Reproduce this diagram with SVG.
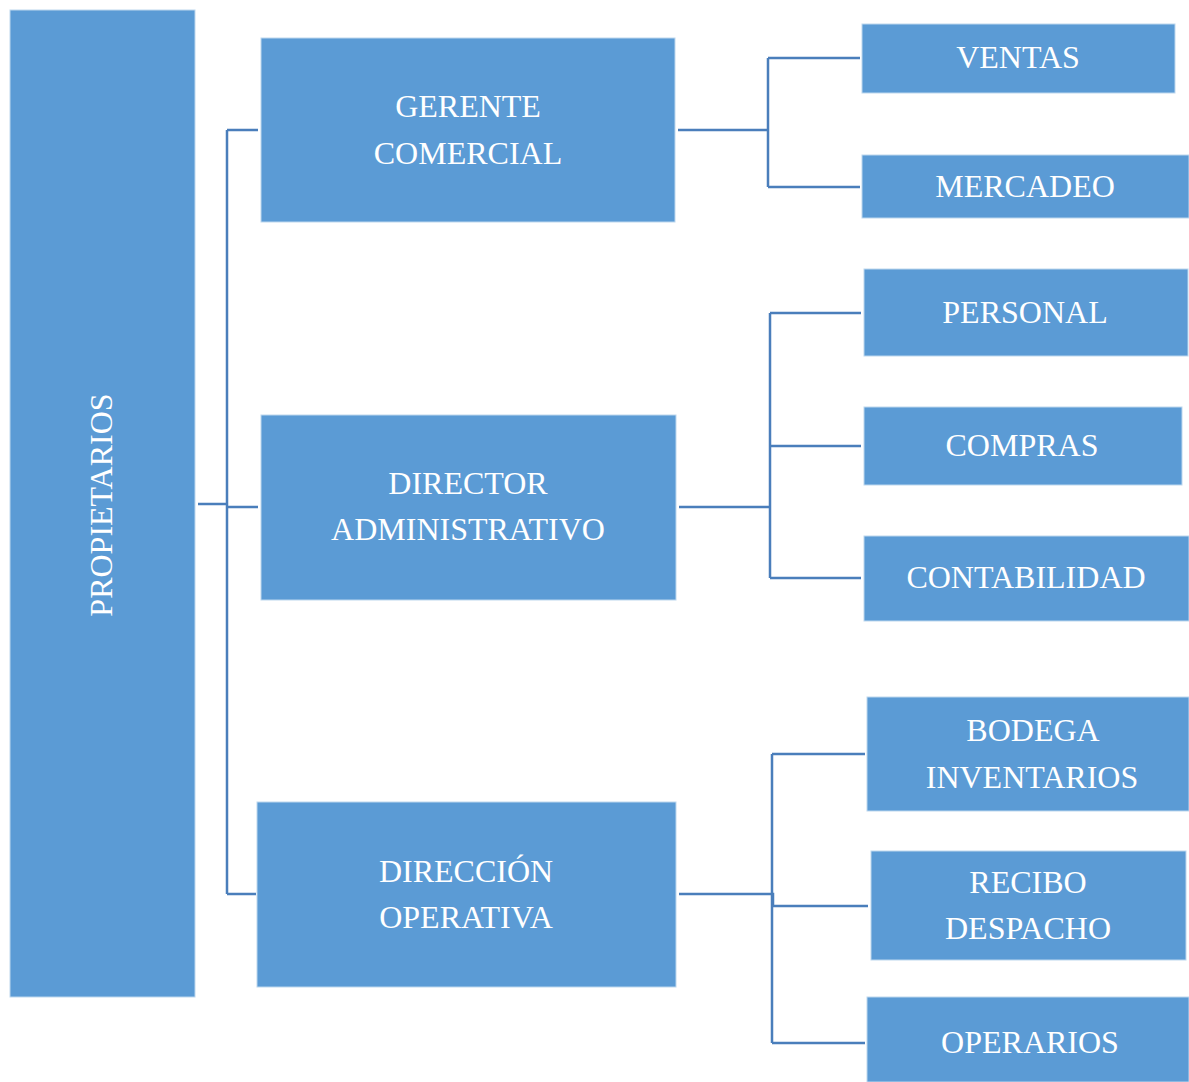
<svg xmlns="http://www.w3.org/2000/svg" width="1189" height="1082" viewBox="0 0 1189 1082">
<style>
.box{fill:#5B9BD5;stroke:#BDD7EE;stroke-width:1}
.t{font-family:"Liberation Serif","Times New Roman",serif;font-size:32px;fill:#FFFFFF;text-anchor:middle}
.c{fill:none;stroke:#4A7EBB;stroke-width:2.5}
</style>
<rect width="1189" height="1082" fill="#FFFFFF"/>
<g id="connectors">
<path class="c" d="M198 504H228M227 130V894M227 130H258M228 507H258M227 894H256"/>
<path class="c" d="M678 130H769M768 58V187M768 58H860M768 187H860"/>
<path class="c" d="M679 507H770M770 313V578M770 313H861M770 446H861M770 578H861"/>
<path class="c" d="M679 894H773V906M772 754V1043M772 754H865M773 906H868M772 1043H865"/>
</g>
<g id="propietarios"><rect class="box" x="10" y="10" width="185" height="987"/><text class="t" transform="translate(112,505) rotate(-90)">PROPIETARIOS</text></g>
<g id="gerente"><rect class="box" x="261" y="38" width="414" height="184"/><text class="t" x="468" y="117">GERENTE</text><text class="t" x="468" y="164">COMERCIAL</text></g>
<g id="director"><rect class="box" x="261" y="415" width="415" height="185"/><text class="t" x="468" y="494">DIRECTOR</text><text class="t" x="468" y="540">ADMINISTRATIVO</text></g>
<g id="direccion"><rect class="box" x="257" y="802" width="419" height="185"/><text class="t" x="466" y="882">DIRECCIÓN</text><text class="t" x="466" y="928">OPERATIVA</text></g>
<g id="ventas"><rect class="box" x="862" y="24" width="313" height="69"/><text class="t" x="1018" y="68">VENTAS</text></g>
<g id="mercadeo"><rect class="box" x="862" y="155" width="327" height="63"/><text class="t" x="1025" y="197">MERCADEO</text></g>
<g id="personal"><rect class="box" x="864" y="269" width="324" height="87"/><text class="t" x="1025" y="323">PERSONAL</text></g>
<g id="compras"><rect class="box" x="864" y="407" width="318" height="78"/><text class="t" x="1022" y="456">COMPRAS</text></g>
<g id="contabilidad"><rect class="box" x="864" y="536" width="325" height="85"/><text class="t" x="1026" y="588">CONTABILIDAD</text></g>
<g id="bodega"><rect class="box" x="867" y="697" width="322" height="114"/><text class="t" x="1033" y="741">BODEGA</text><text class="t" x="1032" y="788">INVENTARIOS</text></g>
<g id="recibo"><rect class="box" x="871" y="851" width="315" height="109"/><text class="t" x="1028" y="893">RECIBO</text><text class="t" x="1028" y="939">DESPACHO</text></g>
<g id="operarios"><rect class="box" x="867" y="997" width="322" height="85"/><text class="t" x="1030" y="1053">OPERARIOS</text></g>
</svg>
